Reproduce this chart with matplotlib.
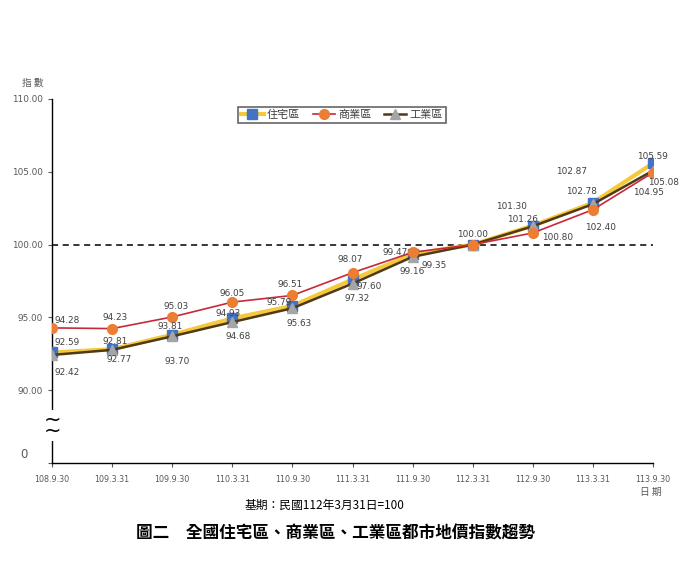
import matplotlib
matplotlib.use("Agg")
import matplotlib.pyplot as plt

plt.rcParams['font.family'] = ['Noto Sans CJK TC', 'DejaVu Sans']

# Dates (ROC calendar)
dates = ["108.9.30", "109.3.31", "109.9.30", "110.3.31", "110.9.30", "111.3.31",
         "111.9.30", "112.3.31", "112.9.30", "113.3.31", "113.9.30"]

# Index values
residential = [92.59, 92.81, 93.81, 94.93, 95.79, 97.60, 99.35, 100.00, 101.30, 102.87, 105.59]
commercial = [94.28, 94.23, 95.03, 96.05, 96.51, 98.07, 99.47, 100.00, 100.80, 102.40, 104.95]
industrial = [92.42, 92.77, 93.70, 94.68, 95.63, 97.32, 99.16, 100.00, 101.26, 102.78, 105.08]

series_names = ["住宅區", "商業區", "工業區"]

# label offsets in pixels (dx right, dy down), None = no label
res_off = [(15, -10), (3, -8), (-2, -8), (-4, -5), (-13, -3), (17, 7), (22, 11),
           None, (-21, -19), (-21, -31), (0, -7)]
com_off = [(15, -7), (3, -11), (4, -10), (0, -9), (-2, -11), (-2, -13), (-17, 0),
           (0, -10), (25, 5), (8, 18), (-5, 20)]
ind_off = [(15, 18), (7, 10), (5, 25), (6, 14), (7, 15), (5, 15), (0, 15),
           None, (-10, -7), (-11, -13), (11, 12)]

fig = plt.figure(figsize=(6.93, 5.88), dpi=100)
ax = fig.add_axes([52 / 693, 1 - 463 / 588, 601 / 693, 364 / 588])

x = list(range(len(dates)))

ax.axhline(100, color='black', lw=1.1, ls=(0, (4, 3)), zorder=1)

ax.plot(x, residential, color='#F5C93A', lw=3.0, marker='s', ms=6.5,
        mfc='#4472C4', mec='#4472C4', label=series_names[0], zorder=3)
ax.plot(x, industrial, color='#4F3A17', lw=1.8, marker='^', ms=7,
        mfc='#A5A5A5', mec='#A5A5A5', label=series_names[2], zorder=4)
ax.plot(x, commercial, color='#C8283C', lw=1.2, marker='o', ms=7,
        mfc='#ED7D31', mec='#ED7D31', label=series_names[1], zorder=5)

for vals, offs in [(residential, res_off), (commercial, com_off), (industrial, ind_off)]:
    for i, (v, off) in enumerate(zip(vals, offs)):
        if off is None:
            continue
        ax.annotate(f"{v:.2f}", (i, v), xytext=(off[0] * 0.72, -off[1] * 0.72),
                    textcoords='offset points', ha='center', va='center',
                    fontsize=6.4, color='#404040', family='DejaVu Sans', zorder=6)

ax.set_xlim(0, len(dates) - 1)
ax.set_ylim(85, 110)
ax.set_xticks(x)
ax.set_xticklabels(dates, fontsize=5.8, color='#595959', family='DejaVu Sans')
ax.set_yticks([85, 90, 95, 100, 105, 110])
ax.set_yticklabels(["", "90.00", "95.00", "100.00", "105.00", "110.00"],
                   fontsize=6.4, color='#595959', family='DejaVu Sans')
ax.tick_params(axis='both', length=3, width=0.8, color='#595959')
ax.tick_params(axis='x', pad=6)
for s in ['top', 'right']:
    ax.spines[s].set_visible(False)
for s in ['left', 'bottom']:
    ax.spines[s].set_color('black')
    ax.spines[s].set_linewidth(1.0)

# axis break (two stacked tildes) and zero label
ax.text(0, 87.6, "~\n~", fontsize=15, ha='center', va='center', color='black',
        family='DejaVu Sans', linespacing=0.45, zorder=7, clip_on=False,
        bbox=dict(facecolor='white', edgecolor='none', pad=0))
ax.text(-0.04, 85.55, "0", transform=ax.get_yaxis_transform(), fontsize=8.5,
        ha='right', va='center', color='#595959', family='DejaVu Sans')

handles, labels = ax.get_legend_handles_labels()
order = [0, 2, 1]
leg = ax.legend([handles[i] for i in order], [labels[i] for i in order],
                loc='center', bbox_to_anchor=(0.4825, 0.956), ncol=3, fontsize=8,
                frameon=True, fancybox=False, handlelength=2.0, handletextpad=0.3,
                columnspacing=1.1, borderpad=0.3, labelcolor='#404040')
leg.get_frame().set_edgecolor('#404040')
leg.get_frame().set_linewidth(1.2)

fig.text(33 / 693, 1 - 83 / 588, "指 數", fontsize=7, color='#595959', ha='center', va='center')
fig.text(651 / 693, 1 - 492 / 588, "日 期", fontsize=7, color='#595959', ha='center', va='center')
fig.text(325 / 693, 1 - 505 / 588, "基期：民國112年3月31日=100", fontsize=8.5,
         color='black', ha='center', va='center')
fig.text(335 / 693, 1 - 533 / 588, "圖二　全國住宅區、商業區、工業區都市地價指數趨勢",
         fontsize=12, fontweight='bold', color='black', ha='center', va='center')

fig.savefig("out.png", dpi=100)
